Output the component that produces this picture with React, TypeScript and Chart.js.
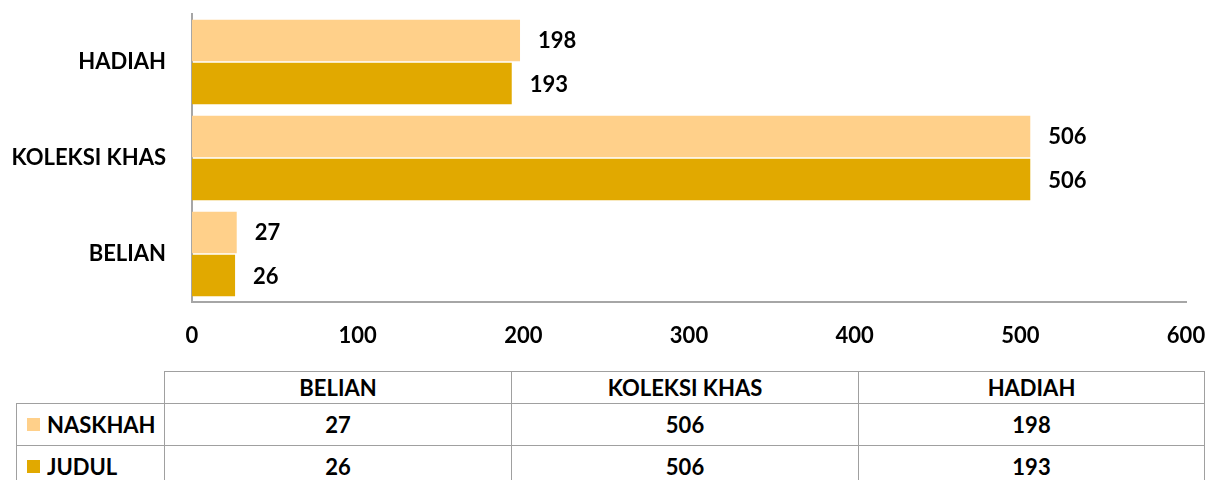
import React, { useEffect, useRef } from "react";
import { Chart, registerables } from "chart.js";

Chart.register(...registerables);

const categories = ["BELIAN", "KOLEKSI KHAS", "HADIAH"];
const seriesNames = ["NASKHAH", "JUDUL"];
const naskhah = [27, 506, 198];
const judul = [26, 506, 193];
const seriesColors = ["#FFD08A", "#E1A900"];
const xTicks = [0, 100, 200, 300, 400, 500, 600];

const FONT = "Lato, 'Open Sans', sans-serif";

const valueLabels = {
  id: "valueLabels",
  afterDatasetsDraw(chart: any) {
    const ctx = chart.ctx;
    ctx.save();
    ctx.font = `bold 22px ${FONT}`;
    ctx.fillStyle = "#000";
    ctx.textAlign = "left";
    ctx.textBaseline = "middle";
    chart.data.datasets.forEach((ds: any, di: number) => {
      const meta = chart.getDatasetMeta(di);
      meta.data.forEach((bar: any, i: number) => {
        ctx.fillText(String(ds.data[i]), bar.x + 18, bar.y + 1);
      });
    });
    ctx.restore();
  },
};

export default function App() {
  const ref = useRef<HTMLCanvasElement>(null);

  useEffect(() => {
    if (!ref.current) return;
    const chart = new Chart(ref.current, {
      type: "bar",
      data: {
        labels: categories,
        datasets: [
          {
            label: seriesNames[0],
            data: naskhah,
            backgroundColor: seriesColors[0],
            borderWidth: 0,
            categoryPercentage: 0.9,
            barPercentage: 0.96,
          },
          {
            label: seriesNames[1],
            data: judul,
            backgroundColor: seriesColors[1],
            borderWidth: 0,
            categoryPercentage: 0.9,
            barPercentage: 0.96,
          },
        ],
      },
      options: {
        indexAxis: "y",
        responsive: false,
        animation: false,
        layout: { padding: { top: 14, right: 23, left: 0, bottom: 0 } },
        plugins: {
          legend: { display: false },
          tooltip: { enabled: false },
        },
        scales: {
          x: {
            type: "linear",
            min: 0,
            max: 600,
            afterBuildTicks: (s: any) => {
              s.ticks = xTicks.map((v) => ({ value: v }));
            },
            afterFit: (s: any) => {
              s.height = 63;
              s.paddingLeft = 0;
              s.paddingRight = 0;
            },
            grid: { display: false, drawTicks: false },
            border: { display: true, color: "#a6a6a6", width: 2 },
            ticks: {
              padding: 21,
              color: "#000",
              font: { family: FONT, size: 22, weight: "bold" },
              maxRotation: 0,
            },
          },
          y: {
            reverse: true,
            afterFit: (s: any) => {
              s.width = 192;
              s.paddingTop = 0;
              s.paddingBottom = 0;
            },
            grid: { display: false, drawTicks: false },
            border: { display: true, color: "#a6a6a6", width: 2 },
            ticks: {
              padding: 26,
              color: "#000",
              font: { family: FONT, size: 22, weight: "bold" },
            },
          },
        },
      },
      plugins: [valueLabels],
    });
    return () => chart.destroy();
  }, []);

  const cellBorder = "1px solid #a0a0a0";
  const textStyle: React.CSSProperties = {
    fontFamily: FONT,
    fontWeight: "bold",
    fontSize: 22,
    color: "#000",
  };
  const colW = 347;
  const rows = [naskhah, judul];

  return (
    <div
      style={{
        position: "absolute",
        left: 0,
        top: 0,
        width: 1209,
        height: 480,
        overflow: "hidden",
        background: "#fff",
      }}
    >
      <canvas
        ref={ref}
        width={1209}
        height={365}
        style={{ position: "absolute", left: 0, top: 0, width: 1209, height: 365 }}
      />
      {categories.map((c, i) => (
        <div
          key={c}
          style={{
            ...textStyle,
            position: "absolute",
            left: 164 + i * colW,
            top: 371,
            width: colW,
            height: 32,
            borderTop: cellBorder,
            borderLeft: cellBorder,
            borderRight: i === categories.length - 1 ? cellBorder : undefined,
            boxSizing: "border-box",
            display: "flex",
            alignItems: "center",
            justifyContent: "center",
          }}
        >
          {c}
        </div>
      ))}
      {rows.map((vals, r) => (
        <React.Fragment key={seriesNames[r]}>
          <div
            style={{
              ...textStyle,
              position: "absolute",
              left: 16,
              top: 403 + r * 42,
              width: 148,
              height: 42,
              borderTop: cellBorder,
              borderLeft: cellBorder,
              boxSizing: "border-box",
              display: "flex",
              alignItems: "center",
            }}
          >
            <span
              style={{
                display: "inline-block",
                width: 13,
                height: 13,
                background: seriesColors[r],
                marginLeft: 10,
                marginRight: 7,
              }}
            />
            {seriesNames[r]}
          </div>
          {vals.map((v, i) => (
            <div
              key={i}
              style={{
                ...textStyle,
                position: "absolute",
                left: 164 + i * colW,
                top: 403 + r * 42,
                width: colW,
                height: 42,
                borderTop: cellBorder,
                borderLeft: cellBorder,
                borderRight: i === vals.length - 1 ? cellBorder : undefined,
                boxSizing: "border-box",
                display: "flex",
                alignItems: "center",
                justifyContent: "center",
              }}
            >
              {v}
            </div>
          ))}
        </React.Fragment>
      ))}
    </div>
  );
}
